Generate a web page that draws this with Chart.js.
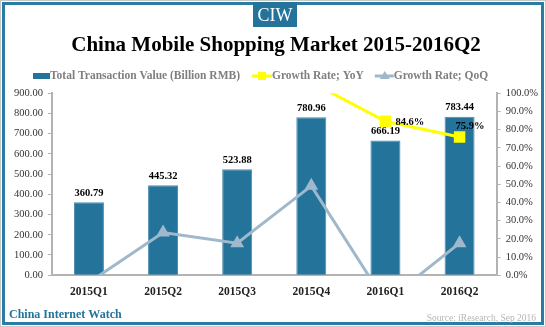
<!DOCTYPE html>
<html>
<head>
<meta charset="utf-8">
<script src="https://cdn.jsdelivr.net/npm/chart.js@4.4.0/dist/chart.umd.min.js"></script>
<style>
  html, body { margin: 0; padding: 0; background: #fff; }
  #wrap { width: 546px; height: 327px; position: relative; }
</style>
</head>
<body>
<div id="wrap"><canvas id="myChart" width="546" height="327"></canvas></div>
<script>
  const quarters = ['2015Q1', '2015Q2', '2015Q3', '2015Q4', '2016Q1', '2016Q2'];
  const transactionValue = [360.79, 445.32, 523.88, 780.96, 666.19, 783.44];
  // growth rates in %, early YoY points sit above the 100% top and are clipped
  const yoyGrowth = [215.0, 190.0, 150.0, 106.0, 84.6, 75.9];
  const qoqGrowth = [-4.0, 23.4, 17.6, 49.1, -14.7, 17.6];
  const leftTicks = [0, 100, 200, 300, 400, 500, 600, 700, 800, 900];
  const rightTicks = [0, 10, 20, 30, 40, 50, 60, 70, 80, 90, 100];

  const serif = '"Liberation Serif", "Times New Roman", serif';
  const teal = '#23739b';

  const decor = {
    id: 'decor',
    beforeDraw(chart) {
      const c = chart.ctx;
      c.save();
      c.fillStyle = '#fff';
      c.fillRect(0, 0, chart.width, chart.height);
      c.restore();
    },
    afterDraw(chart) {
      const c = chart.ctx;
      const ds = chart.data.datasets;
      c.save();

      // frame
      c.strokeStyle = '#c8c8c8';
      c.lineWidth = 1;
      c.strokeRect(0.5, 0.5, 545, 326);
      c.strokeStyle = '#2a7ca3';
      c.lineWidth = 3;
      c.strokeRect(3.5, 3.5, 539, 320);

      // CIW badge
      c.fillStyle = teal;
      c.fillRect(253, 2, 44, 25);
      c.fillStyle = '#fff';
      c.font = '18px ' + serif;
      c.textAlign = 'center';
      c.textBaseline = 'middle';
      c.fillText('CIW', 275, 16);

      // legend
      c.font = 'bold 11.5px ' + serif;
      c.textAlign = 'left';
      let y = 76;
      c.fillStyle = teal;
      c.fillRect(33, y - 3, 17, 6);
      c.fillStyle = '#7f7f7f';
      c.fillText(ds[0].label, 50, y);
      let x = 50 + c.measureText(ds[0].label).width + 12;
      c.strokeStyle = '#ffff00';
      c.lineWidth = 3;
      c.beginPath(); c.moveTo(x, y); c.lineTo(x + 20, y); c.stroke();
      c.fillStyle = '#ffff00';
      c.fillRect(x + 6, y - 4, 8, 8);
      c.fillStyle = '#7f7f7f';
      c.fillText(ds[1].label, x + 20, y);
      x = x + 20 + c.measureText(ds[1].label).width + 11;
      c.strokeStyle = '#9fb8cb';
      c.beginPath(); c.moveTo(x, y); c.lineTo(x + 19, y); c.stroke();
      c.fillStyle = '#9fb8cb';
      c.beginPath(); c.moveTo(x + 10, y - 5); c.lineTo(x + 15, y + 3); c.lineTo(x + 5, y + 3); c.closePath(); c.fill();
      c.fillStyle = '#7f7f7f';
      c.fillText(ds[2].label, x + 19, y);

      // bar value labels
      c.font = 'bold 10.5px ' + serif;
      c.fillStyle = '#000';
      c.textAlign = 'center';
      chart.getDatasetMeta(0).data.forEach((bar, i) => {
        c.fillText(transactionValue[i].toFixed(2), bar.x, bar.y - 9);
      });

      // YoY labels for visible points
      const area = chart.chartArea;
      c.textAlign = 'left';
      const offs = [[10, 0], [10, 0], [10, 0], [10, 0], [10, 1], [-4, -11]];
      chart.getDatasetMeta(1).data.forEach((p, i) => {
        if (p.y < area.top) return;
        c.fillText(yoyGrowth[i].toFixed(1) + '%', p.x + offs[i][0], p.y + offs[i][1]);
      });

      // footer
      c.font = 'bold 12px ' + serif;
      c.fillStyle = teal;
      c.textAlign = 'left';
      c.fillText('China Internet Watch', 9, 315);
      c.font = '9.5px ' + serif;
      c.fillStyle = '#b5b5b5';
      c.textAlign = 'right';
      c.fillText('Source: iResearch, Sep 2016', 536, 318);
      c.restore();
    }
  };

  new Chart(document.getElementById('myChart'), {
    data: {
      labels: quarters,
      datasets: [{
        type: 'bar',
        label: 'Total Transaction Value (Billion RMB)',
        data: transactionValue,
        backgroundColor: teal,
        borderColor: '#4a8db0',
        borderWidth: 1,
        barPercentage: 0.405,
        categoryPercentage: 1,
        yAxisID: 'y',
        order: 3
      }, {
        type: 'line',
        label: 'Growth Rate; YoY',
        data: yoyGrowth,
        borderColor: '#ffff00',
        backgroundColor: '#ffff00',
        borderWidth: 3,
        pointStyle: 'rect',
        pointRadius: 6,
        pointHoverRadius: 6,
        yAxisID: 'y2',
        order: 1
      }, {
        type: 'line',
        label: 'Growth Rate; QoQ',
        data: qoqGrowth,
        borderColor: '#9fb8cb',
        backgroundColor: '#9fb8cb',
        borderWidth: 3,
        pointStyle: 'triangle',
        pointRadius: 5,
        pointHoverRadius: 5,
        yAxisID: 'y2',
        order: 2
      }]
    },
    options: {
      responsive: false,
      animation: false,
      layout: { padding: { top: 33, left: 9, right: 3, bottom: 18 } },
      plugins: {
        legend: { display: false },
        title: {
          display: true,
          text: 'China Mobile Shopping Market 2015-2016Q2',
          color: '#000',
          font: { family: serif, size: 21, weight: 'bold' },
          padding: { top: 0, bottom: 35 },
          position: 'top',
          fullSize: true
        },
        tooltip: { enabled: false }
      },
      scales: {
        x: {
          grid: { display: false, drawTicks: false },
          border: { color: '#b3b3b3', width: 2 },
          ticks: { color: '#222', font: { family: serif, size: 11.5, weight: 'bold' }, padding: 10 }
        },
        y: {
          position: 'left',
          min: 0,
          max: 900,
          afterBuildTicks: axis => { axis.ticks = leftTicks.map(v => ({ value: v })); },
          grid: { drawOnChartArea: false, tickLength: 4, color: '#b3b3b3' },
          border: { color: '#b3b3b3', width: 2 },
          ticks: { color: '#333', font: { family: serif, size: 10.5 }, padding: 5,
                   callback: v => v.toFixed(2) }
        },
        y2: {
          position: 'right',
          min: 0,
          max: 100,
          afterBuildTicks: axis => { axis.ticks = rightTicks.map(v => ({ value: v })); },
          grid: { drawOnChartArea: false, tickLength: 4, color: '#b3b3b3' },
          border: { color: '#b3b3b3', width: 2 },
          ticks: { color: '#333', font: { family: serif, size: 10.5 }, padding: 5,
                   callback: v => v.toFixed(1) + '%' }
        }
      }
    },
    plugins: [decor]
  });
</script>
</body>
</html>
